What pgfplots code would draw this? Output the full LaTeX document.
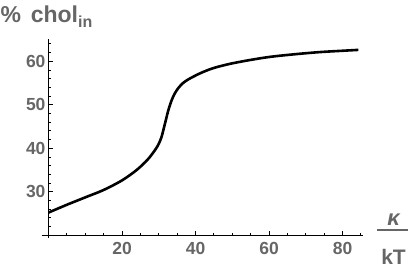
\documentclass[border=0pt]{standalone}
\usepackage{fontspec}
\setmainfont{Liberation Sans}
\usepackage{pgfplots}
\pgfplotsset{compat=1.18}
\definecolor{tickgray}{HTML}{666666}
\begin{document}
\begin{tikzpicture}
\useasboundingbox (-48.5pt,-33.8pt) rectangle (366.5pt,235.2pt);
\begin{axis}[
  at={(0pt,0pt)}, anchor=south west,
  scale only axis,
  width=314.6pt, height=195.75pt,
  xmin=0, xmax=85.6, ymin=20, ymax=65,
  axis lines=left,
  axis line style={-, line width=1.1pt, black},
  clip=false,
  xtick={20,40,60,80},
  ytick={30,40,50,60},
  minor xtick={5,10,15,25,30,35,45,50,55,65,70,75,85},
  minor ytick={22,24,26,28,32,34,36,38,42,44,46,48,52,54,56,58,62,64},
  tick align=inside,
  major tick length=4.5pt,
  minor tick length=2.5pt,
  tick style={line width=0.8pt, black},
  /pgf/number format/assume math mode=true,
  tick label style={font=\fontsize{17.5}{18}\selectfont\bfseries, text=tickgray},
  xticklabel style={yshift=-3.5pt},
  yticklabel style={xshift=0.5pt},
]
\addplot[black, line width=2.6pt, smooth, tension=0.5] coordinates {
(0,25.2) (5,27.0) (10,28.7) (15,30.4) (20,32.6) (24,35.0) (27,37.4)
(29,39.6) (30,41.0) (30.8,42.7) (31.7,45.7) (32.6,48.7) (33.5,51.0)
(34.3,52.5) (35.3,53.8) (36.5,54.9) (38,55.8) (41.2,57.2) (44.8,58.4)
(49.4,59.4) (55,60.3) (60.3,61.0) (67,61.6) (73.9,62.1) (80,62.4) (84.3,62.6)
};
\draw[line width=1.1pt] (axis cs:-1.8,20) -- (axis cs:0,20);
\draw[line width=1.1pt] (axis cs:0,19.4) -- (axis cs:0,20);
\end{axis}
\node[anchor=base west, inner sep=0pt, text=tickgray, font=\fontsize{23}{25}\selectfont\bfseries]
  at (-48pt,212.5pt) {\%\hspace{0.42em}chol\raisebox{-4.5pt}{\fontsize{16}{17}\selectfont in}};
\fill[tickgray] (328.5pt,4.2pt) rectangle (359.5pt,6.2pt);
\node[anchor=base, inner sep=0pt, text=tickgray, font=\fontsize{22}{24}\selectfont\bfseries\itshape]
  at (345pt,10.2pt) {κ};
\node[anchor=base, inner sep=0pt, text=tickgray, font=\fontsize{21}{23}\selectfont\bfseries]
  at (345pt,-29.6pt) {kT};
\end{tikzpicture}
\end{document}
